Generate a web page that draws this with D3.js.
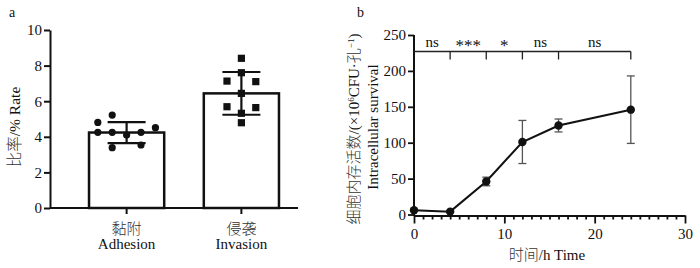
<!DOCTYPE html>
<html>
<head>
<meta charset="utf-8">
<script src="https://cdn.jsdelivr.net/npm/d3@7"></script>
<style>
  body { margin: 0; background: #fff; }
  svg text { font-family: "Liberation Serif", "Noto Sans CJK SC", serif; fill: #111; }
  svg .cjk { font-weight: 300; fill: #333; }
</style>
</head>
<body>
<div id="chart"></div>
<script>
// panel a data
const catCn = ["黏附", "侵袭"];
const catEn = ["Adhesion", "Invasion"];
const barMean = [4.24, 6.44];
const barSD = [0.59, 1.2];
const adhesionPts = [4.81, 5.22, 4.25, 4.25, 4.10, 4.25, 4.51, 3.39, 3.54];
const adhesionSlot = [-2, -1, -2, -1, 0, 1, 2, -1, 1];
const invasionPts = [8.41, 7.6, 7.13, 7.1, 6.44, 5.69, 5.64, 5.32, 4.79];
const invasionSlot = [0, 0, -1, 1, 0, -1, 1, 0, 0];
const aTicks = [0, 2, 4, 6, 8, 10];

// panel b data
const times = [0, 4, 8, 12, 16, 24];
const survival = [6, 4, 46, 101, 124, 146];
const survivalSD = [1, 1, 6, 30, 9, 47];
const sigFrom = [0, 4, 8, 12, 16];
const sigTo = [4, 8, 12, 16, 24];
const sigLabels = ["ns", "***", "*", "ns", "ns"];
const sigLevel = 227;
const bYTicks = [0, 50, 100, 150, 200, 250];
const bXTicks = [0, 10, 20, 30];

const svg = d3.select("#chart").append("svg")
    .attr("width", 700)
    .attr("height", 268);

// ---------------- panel a ----------------
const ya = d3.scaleLinear().domain([0, 10]).range([208, 30]);
const xa = d3.scaleBand().domain(catEn).range([50, 318]).paddingInner(0.345).paddingOuter(0.34);

svg.append("text").attr("x", 9).attr("y", 17).attr("font-size", 14).text("a");

const yAxisA = svg.append("g")
    .attr("transform", "translate(50,0)")
    .call(d3.axisLeft(ya).tickValues(aTicks).tickSize(6).tickSizeOuter(0));
yAxisA.selectAll("text").attr("font-size", 15).attr("x", -8);

const xAxisA = svg.append("g")
    .attr("transform", "translate(0,208)")
    .call(d3.axisBottom(xa).tickSize(6).tickSizeOuter(0).tickFormat(""));
xAxisA.select(".domain").attr("d", "M50,0H298");

[yAxisA, xAxisA].forEach(g => {
    g.select(".domain").attr("stroke", "#111").attr("stroke-width", 2);
    g.selectAll(".tick line").attr("stroke", "#111").attr("stroke-width", 2);
});

svg.selectAll(".bar")
    .data(catEn)
    .enter()
    .append("rect")
    .attr("class", "bar")
    .attr("x", d => xa(d))
    .attr("y", (d, i) => ya(barMean[i]))
    .attr("width", xa.bandwidth())
    .attr("height", (d, i) => ya(0) - ya(barMean[i]))
    .attr("fill", "#fff")
    .attr("stroke", "#111")
    .attr("stroke-width", 2.5);

// error bars a
catEn.forEach((c, i) => {
    const cx = xa(c) + xa.bandwidth() / 2;
    const g = svg.append("g").attr("stroke", "#111").attr("stroke-width", 2.2);
    g.append("line").attr("x1", cx).attr("x2", cx)
        .attr("y1", ya(barMean[i] - barSD[i])).attr("y2", ya(barMean[i] + barSD[i]));
    [barMean[i] - barSD[i], barMean[i] + barSD[i]].forEach(v => {
        g.append("line").attr("x1", cx - 19).attr("x2", cx + 19)
            .attr("y1", ya(v)).attr("y2", ya(v));
    });
});

const slotW = 14.4;
const cxA = xa(catEn[0]) + xa.bandwidth() / 2;
svg.selectAll(".dotA")
    .data(adhesionPts)
    .enter()
    .append("circle")
    .attr("class", "dotA")
    .attr("cx", (d, i) => cxA + adhesionSlot[i] * slotW)
    .attr("cy", d => ya(d))
    .attr("r", 3.6)
    .attr("fill", "#111");

const cxB = xa(catEn[1]) + xa.bandwidth() / 2;
svg.selectAll(".sqB")
    .data(invasionPts)
    .enter()
    .append("rect")
    .attr("class", "sqB")
    .attr("x", (d, i) => cxB + invasionSlot[i] * slotW - 3.6)
    .attr("y", d => ya(d) - 3.6)
    .attr("width", 7.2)
    .attr("height", 7.2)
    .attr("fill", "#111");

catEn.forEach((c, i) => {
    const cx = xa(c) + xa.bandwidth() / 2;
    svg.append("text").attr("class", "cjk").attr("x", cx).attr("y", 234).attr("text-anchor", "middle")
        .attr("font-size", 15).text(catCn[i]);
    svg.append("text").attr("x", cx).attr("y", 249).attr("text-anchor", "middle")
        .attr("font-size", 15).text(c);
});

const yla = svg.append("text")
    .attr("transform", "translate(15,127) rotate(-90)")
    .attr("text-anchor", "middle")
    .attr("dy", "0.35em")
    .attr("font-size", 15.5);
yla.append("tspan").attr("class", "cjk").text("比率");
yla.append("tspan").text("/% Rate");

// ---------------- panel b ----------------
const xb = d3.scaleLinear().domain([0, 30]).range([414, 685]);
const yb = d3.scaleLinear().domain([0, 250]).range([214.5, 35]);

svg.append("text").attr("x", 357).attr("y", 17).attr("font-size", 14).text("b");

const yAxisB = svg.append("g")
    .attr("transform", "translate(414,0)")
    .call(d3.axisLeft(yb).tickValues(bYTicks).tickSize(6).tickSizeOuter(0));
yAxisB.select(".domain").attr("d", "M0,35V216");
yAxisB.selectAll("text").attr("font-size", 15).attr("x", -8);

const xAxisB = svg.append("g")
    .attr("transform", "translate(0,215.5)")
    .call(d3.axisBottom(xb).tickValues(bXTicks).tickSize(8).tickSizeOuter(0));
xAxisB.selectAll("text").attr("font-size", 15).attr("y", 13);

const minorB = svg.append("g")
    .attr("transform", "translate(0,215.5)")
    .call(d3.axisBottom(xb).tickValues(d3.range(0, 31, 1).filter(d => d % 10 !== 0))
        .tickSize(4).tickSizeOuter(0).tickFormat(""));
minorB.select(".domain").remove();

[yAxisB, xAxisB, minorB].forEach(g => {
    g.select(".domain").attr("stroke", "#111").attr("stroke-width", 2);
    g.selectAll(".tick line").attr("stroke", "#111").attr("stroke-width", 1.8);
});

// significance bracket
const br = svg.append("g").attr("stroke", "#222").attr("stroke-width", 1.3).attr("fill", "none");
br.append("line")
    .attr("x1", xb(sigFrom[0])).attr("x2", xb(sigTo[sigTo.length - 1]))
    .attr("y1", yb(sigLevel)).attr("y2", yb(sigLevel));
sigTo.forEach(t => {
    br.append("line").attr("x1", xb(t)).attr("x2", xb(t))
        .attr("y1", yb(sigLevel)).attr("y2", yb(sigLevel) + 8);
});
sigLabels.forEach((s, i) => {
    svg.append("text")
        .attr("x", xb((sigFrom[i] + sigTo[i]) / 2))
        .attr("y", yb(sigLevel) - (s.startsWith("*") ? 1 : 5))
        .attr("text-anchor", "middle")
        .attr("font-size", s.startsWith("*") ? 17 : 15)
        .text(s);
});

// error bars b
const eb = svg.append("g").attr("stroke", "#555").attr("stroke-width", 1.3);
times.forEach((t, i) => {
    const lo = survival[i] - survivalSD[i], hi = survival[i] + survivalSD[i];
    eb.append("line").attr("x1", xb(t)).attr("x2", xb(t)).attr("y1", yb(lo)).attr("y2", yb(hi));
    eb.append("line").attr("x1", xb(t) - 4).attr("x2", xb(t) + 4).attr("y1", yb(lo)).attr("y2", yb(lo));
    eb.append("line").attr("x1", xb(t) - 4).attr("x2", xb(t) + 4).attr("y1", yb(hi)).attr("y2", yb(hi));
});

const line = d3.line().x((d, i) => xb(times[i])).y(d => yb(d));
svg.append("path")
    .datum(survival)
    .attr("d", line)
    .attr("fill", "none")
    .attr("stroke", "#111")
    .attr("stroke-width", 2);

svg.selectAll(".ptB")
    .data(survival)
    .enter()
    .append("circle")
    .attr("class", "ptB")
    .attr("cx", (d, i) => xb(times[i]))
    .attr("cy", d => yb(d))
    .attr("r", 4.2)
    .attr("fill", "#111");

// y label b (two lines)
const yl1 = svg.append("text")
    .attr("transform", "translate(354,129) rotate(-90)")
    .attr("text-anchor", "middle")
    .attr("dy", "0.35em")
    .attr("font-size", 15);
yl1.append("tspan").attr("class", "cjk").text("细胞内存活数");
yl1.append("tspan").text("/(×10");
yl1.append("tspan").attr("dy", -5).attr("font-size", 9).text("6");
yl1.append("tspan").attr("dy", 5).text("CFU·");
yl1.append("tspan").attr("class", "cjk").text("孔");
yl1.append("tspan").attr("dy", -5).attr("font-size", 9).text("−1");
yl1.append("tspan").attr("dy", 5).text(")");

svg.append("text")
    .attr("transform", "translate(372.5,127) rotate(-90)")
    .attr("text-anchor", "middle")
    .attr("dy", "0.35em")
    .attr("font-size", 15)
    .text("Intracellular survival");

const xlb = svg.append("text")
    .attr("x", 547)
    .attr("y", 260)
    .attr("text-anchor", "middle")
    .attr("font-size", 15);
xlb.append("tspan").attr("class", "cjk").text("时间");
xlb.append("tspan").text("/h Time");
</script>
</body>
</html>
